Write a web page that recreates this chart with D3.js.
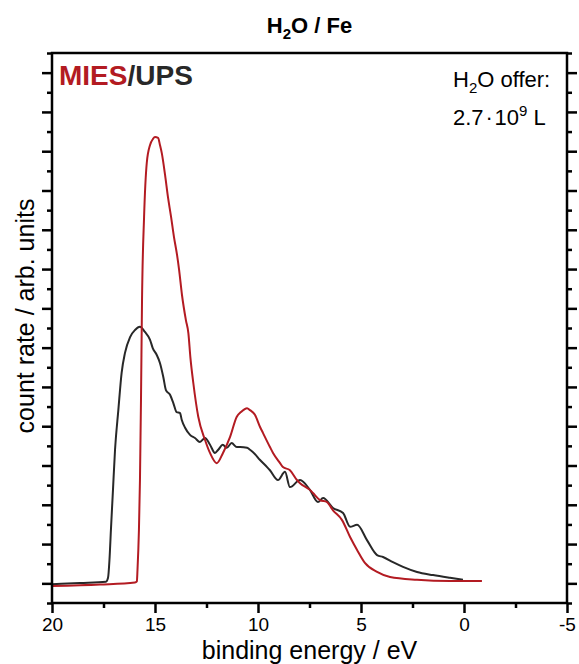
<!DOCTYPE html>
<html>
	<head>
		<meta charset="utf-8">
		<script type="text/javascript" src="https://d3js.org/d3.v7.min.js"></script>
		<style>
			body { margin: 0; background: #ffffff; }
			text { font-family: "Liberation Sans", Arial, sans-serif; fill: #000; }
		</style>
	</head>
	<body>
		<div id="chart"></div>
		<script type="text/javascript">

			///////////////////////////////////////////////////////////////////////////
			//////////////////////////////// Data /////////////////////////////////////
			//MIES spectrum (red), binding energy in eV and count rate in arb. units
			var miesEnergy = [20.00, 17.67, 15.97, 15.88, 15.85, 15.78, 15.73, 15.68, 15.63, 15.53, 15.40, 15.24, 15.10, 15.00,
				14.85, 14.76, 14.67, 14.51, 14.37, 14.22, 14.08, 13.93, 13.83, 13.69, 13.50, 13.38, 13.28, 13.14, 12.90,
				12.57, 12.33, 12.00, 11.70, 11.36, 11.03, 10.83, 10.53, 10.39, 10.15, 9.90, 9.76, 9.42, 9.27, 8.93, 8.79,
				8.45, 8.11, 7.96, 7.48, 7.33, 6.99, 6.65, 6.36, 5.92, 5.53, 5.19, 4.81, 4.22, 3.59, 2.28, 0.68, -0.87];
			var miesCounts = [-0.07, -0.03, 0.02, 0.05, 0.34, 1.36, 2.63, 4.67, 7.21, 9.33, 10.70, 11.16, 11.31, 11.36,
				11.34, 11.16, 10.95, 10.39, 9.83, 9.33, 8.82, 8.36, 7.98, 7.34, 6.70, 6.37, 5.74, 5.10, 4.24,
				3.65, 3.32, 3.06, 3.32, 3.72, 4.24, 4.36, 4.46, 4.41, 4.29, 3.98, 3.83, 3.47, 3.32, 3.06, 2.96,
				2.88, 2.63, 2.55, 2.38, 2.30, 2.12, 2.07, 1.86, 1.61, 1.18, 0.85, 0.52, 0.29, 0.16, 0.09, 0.06, 0.06];

			//UPS spectrum (black)
			var upsEnergy = [20.00, 18.64, 17.38, 17.28, 17.21, 17.14, 17.04, 16.94, 16.78, 16.62, 16.46, 16.21, 15.97, 15.73,
				15.49, 15.24, 15.11, 14.92, 14.76, 14.60, 14.47, 14.27, 14.11, 13.95, 13.79, 13.70, 13.54, 13.30, 13.06,
				12.82, 12.57, 12.33, 12.09, 11.93, 11.71, 11.52, 11.28, 11.03, 10.87, 10.53, 10.39, 10.24, 9.90, 9.56,
				9.42, 9.03, 8.69, 8.45, 7.96, 7.48, 7.09, 6.84, 6.36, 5.87, 5.53, 5.19, 4.71, 4.22, 3.93, 3.45, 2.96,
				2.28, 1.50, 0.68, 0.05];
			var upsCounts = [-0.02, 0.01, 0.04, 0.14, 0.60, 1.36, 2.38, 3.40, 4.41, 5.36, 5.86, 6.27, 6.45, 6.53,
				6.40, 6.20, 5.99, 5.82, 5.61, 5.26, 4.92, 4.80, 4.59, 4.36, 4.34, 4.16, 3.96, 3.78, 3.70,
				3.60, 3.70, 3.53, 3.32, 3.40, 3.53, 3.45, 3.57, 3.47, 3.47, 3.45, 3.40, 3.34, 3.14, 2.96,
				2.88, 2.63, 2.84, 2.45, 2.63, 2.38, 2.07, 2.17, 1.92, 1.79, 1.44, 1.49, 1.10, 0.72, 0.67, 0.54, 0.42,
				0.29, 0.21, 0.14, 0.09];

			//Tick positions
			var xMajorTicks = [20, 15, 10, 5, 0, -5],
				xMinorTicks = [17.5, 12.5, 7.5, 2.5, -2.5];
			var yMajorTicks = d3.range(0, 14, 1),
				yMinorTicks = d3.range(-0.5, 14, 1);

			///////////////////////////////////////////////////////////////////////////
			//////////////////// Set up and initiate svg containers ///////////////////
			var margin = {
				top: 53,
				right: 12,
				bottom: 61,
				left: 52
			};
			var width = 579 - margin.left - margin.right,
				height = 664 - margin.top - margin.bottom;

			var red = "#b31b22",
				dark = "#282828";

			var svgRoot = d3.select("#chart")
				.append("svg")
				.attr("width", width + margin.left + margin.right)
				.attr("height", height + margin.top + margin.bottom);

			var svg = svgRoot.append("g")
				.attr("transform", "translate(" + margin.left + "," + margin.top + ")");

			///////////////////////////////////////////////////////////////////////////
			//////////////////////////////// Scales ///////////////////////////////////
			var x = d3.scaleLinear()
				.domain([20, -5])
				.range([0, width]);

			var y = d3.scaleLinear()
				.domain([-0.5, 13.5])
				.range([height, 0]);

			///////////////////////////////////////////////////////////////////////////
			///////////////////////////////// Axes ////////////////////////////////////
			function styleAxis(g) {
				g.select(".domain").remove();
				g.selectAll(".tick line")
					.attr("stroke", "#000")
					.attr("stroke-width", 2.5);
				g.selectAll(".tick text")
					.style("font-size", "19px")
					.attr("fill", "#000");
			}

			//bottom
			svg.append("g")
				.attr("transform", "translate(0," + height + ")")
				.call(d3.axisBottom(x).tickValues(xMajorTicks).tickSize(10).tickPadding(5)
					.tickFormat(function(d) { return String(d); }))
				.call(styleAxis);
			svg.append("g")
				.attr("transform", "translate(0," + height + ")")
				.call(d3.axisBottom(x).tickValues(xMinorTicks).tickSize(5).tickFormat(""))
				.call(styleAxis);

			//left
			svg.append("g")
				.call(d3.axisLeft(y).tickValues(yMajorTicks).tickSize(10).tickFormat(""))
				.call(styleAxis);
			svg.append("g")
				.call(d3.axisLeft(y).tickValues(yMinorTicks).tickSize(5).tickFormat(""))
				.call(styleAxis);

			//right
			svg.append("g")
				.attr("transform", "translate(" + width + ",0)")
				.call(d3.axisRight(y).tickValues(yMajorTicks).tickSize(10).tickFormat(""))
				.call(styleAxis);
			svg.append("g")
				.attr("transform", "translate(" + width + ",0)")
				.call(d3.axisRight(y).tickValues(yMinorTicks).tickSize(5).tickFormat(""))
				.call(styleAxis);

			///////////////////////////////////////////////////////////////////////////
			//////////////////////////////// Spectra //////////////////////////////////
			var line = d3.line()
				.curve(d3.curveMonotoneX)
				.x(function(d) { return x(d[0]); })
				.y(function(d) { return y(d[1]); });

			svg.append("path")
				.datum(d3.zip(upsEnergy, upsCounts))
				.attr("d", line)
				.style("fill", "none")
				.style("stroke", dark)
				.style("stroke-width", 2)
				.style("stroke-linejoin", "round");

			svg.append("path")
				.datum(d3.zip(miesEnergy, miesCounts))
				.attr("d", line)
				.style("fill", "none")
				.style("stroke", red)
				.style("stroke-width", 2)
				.style("stroke-linejoin", "round");

			//Frame round the plot
			svg.append("rect")
				.attr("width", width)
				.attr("height", height)
				.style("fill", "none")
				.style("stroke", "#000")
				.style("stroke-width", 2.5);

			///////////////////////////////////////////////////////////////////////////
			///////////////////////////////// Texts ///////////////////////////////////
			//Title
			var title = svgRoot.append("text")
				.attr("x", margin.left + width / 2)
				.attr("y", 33)
				.attr("text-anchor", "middle")
				.style("font-size", "22px")
				.style("font-weight", "bold");
			title.append("tspan").text("H");
			title.append("tspan").attr("dy", 6).style("font-size", "15px").text("2");
			title.append("tspan").attr("dy", -6).text("O / Fe");

			//Axis titles
			svgRoot.append("text")
				.attr("x", margin.left + width / 2)
				.attr("y", 659)
				.attr("text-anchor", "middle")
				.style("font-size", "25px")
				.text("binding energy / eV");

			svgRoot.append("text")
				.attr("transform", "translate(34,316) rotate(-90)")
				.attr("text-anchor", "middle")
				.style("font-size", "25px")
				.text("count rate / arb. units");

			//Legend
			var legend = svgRoot.append("text")
				.attr("x", 59)
				.attr("y", 85)
				.style("font-size", "28px")
				.style("font-weight", "bold");
			legend.append("tspan").style("fill", red).text("MIES");
			legend.append("tspan").style("fill", dark).text("/UPS");

			//Exposure note
			var offer = svgRoot.append("text")
				.attr("x", 453)
				.attr("y", 87)
				.style("font-size", "22px");
			offer.append("tspan").text("H");
			offer.append("tspan").attr("dy", 6).style("font-size", "15px").text("2");
			offer.append("tspan").attr("dy", -6).text("O offer:");

			var dose = svgRoot.append("text")
				.attr("x", 453)
				.attr("y", 125)
				.style("font-size", "22px");
			dose.append("tspan").text("2.7\u200A\u00B7\u200A10");
			dose.append("tspan").attr("dy", -9).style("font-size", "15px").text("9");
			dose.append("tspan").attr("dy", 9).text(" L");
		</script>
	</body>
</html>
